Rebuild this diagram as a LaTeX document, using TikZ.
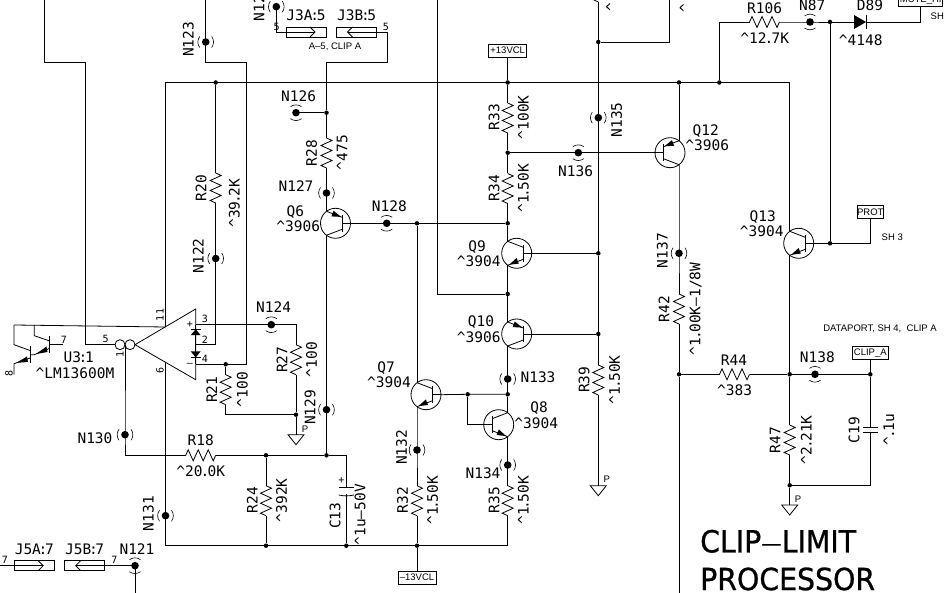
\documentclass[tikz,border=0pt]{standalone}
\usepackage{fontspec}
\newfontfamily\labelfont{DejaVu Sans Mono}
\newfontfamily\notefont{Liberation Sans}
\newfontfamily\titlefont[FakeBold=0.8,FakeStretch=0.93]{DejaVu Sans}
\newcommand{\caret}{\textasciicircum}
\newcommand{\dt}{\kern-1.8pt.\kern-1.8pt}
\newcommand{\cl}{\kern-2.3pt:\kern-2.3pt}
\tikzset{
    wire/.style={line width=0.8pt, line join=miter},
    lbl/.style={font=\labelfont\fontsize{14.5}{15}\selectfont, inner sep=0pt},
    lblv/.style={lbl, rotate=90},
    pin/.style={font=\labelfont\fontsize{10}{10}\selectfont, inner sep=0pt},
    pinv/.style={pin, rotate=90},
    note/.style={font=\notefont\fontsize{9.5}{10}\selectfont, inner sep=0pt},
    title/.style={font=\titlefont\fontsize{30.5}{30}\selectfont, inner sep=0pt, anchor=west},
    tagbox/.style={draw, line width=0.8pt, font=\notefont\fontsize{9.5}{10}\selectfont, inner sep=0pt, minimum height=13pt},
    junction/.style={circle, fill=black, inner sep=0pt, minimum size=4.5pt},
    resv/.pic={
        \draw[wire] (0,0) -- (5.5,2.5) -- (-5.5,7.5) -- (5.5,12.5) -- (-5.5,17.5) -- (5.5,22.5) -- (-5.5,27.5) -- (0,30);
        \coordinate (-a) at (0,0);
        \coordinate (-b) at (0,30);
    },
    testh/.pic={
        \fill (0,0) circle [radius=3.8];
        \draw[line width=0.6pt] (-6,-5.5) to[bend right=35] (-6,5.5);
        \draw[line width=0.6pt] (6,-5.5) to[bend left=35] (6,5.5);
        \coordinate (-c) at (0,0);
    },
    testv/.pic={
        \fill (0,0) circle [radius=3.8];
        \draw[line width=0.6pt] (-5.5,-6) to[bend left=35] (5.5,-6);
        \draw[line width=0.6pt] (-5.5,6) to[bend right=35] (5.5,6);
        \coordinate (-c) at (0,0);
    },
    % base on the right, upper leg carries the arrow
    pnptr/.pic={
        \draw[wire] (0,0) circle [radius=15];
        \draw[wire] (6.6,-8.3) -- (6.6,8.3);
        \draw[wire] (15,0) -- (6.6,0);
        \draw[wire] (-9,-12) -- (6.6,-6);
        \draw[wire] (-9,12) -- (6.6,6);
        \fill (5.6,-6.4) -- (-4.1,-6.9) -- (-1.9,-12.5) -- cycle;
        \coordinate (-t) at (-9,-12);
        \coordinate (-u) at (-9,12);
        \coordinate (-b) at (15,0);
    },
    % base on the right, lower leg carries the arrow
    npntr/.pic={
        \draw[wire] (0,0) circle [radius=15];
        \draw[wire] (6.6,-8.3) -- (6.6,8.3);
        \draw[wire] (15,0) -- (6.6,0);
        \draw[wire] (-9,-12) -- (6.6,-6);
        \draw[wire] (-9,12) -- (6.6,6);
        \fill (-7.5,11.4) -- (2.1,10.3) -- (-0.1,4.7) -- cycle;
        \coordinate (-t) at (-9,-12);
        \coordinate (-u) at (-9,12);
        \coordinate (-b) at (15,0);
    },
    jack/.pic={
        \draw[wire] (-20,-5) rectangle (20,5);
        \draw[wire] (-20,0) -- (9,0);
        \draw[wire] (4,-5) -- (9,0) -- (4,5);
        \coordinate (-l) at (-20,0);
        \coordinate (-r) at (20,0);
    },
    gnd/.pic={
        \draw[wire] (0,10) -- (-8,0) -- (8,0) -- cycle;
        \coordinate (-t) at (0,0);
    }
}
\begin{document}
\begin{tikzpicture}[x=1pt, y=-1pt]
    \useasboundingbox (0,0) rectangle (948,593);

    % junction dots
    \node[junction] (j20) at (215.7,82.5) {};
    \node[junction] (j33) at (507.7,82.5) {};
    \node[junction] (j12) at (679,82.5) {};
    \node[junction] (j106) at (719.3,82.5) {};
    \node[junction] (j126) at (326.5,112.7) {};
    \node[junction] (j135) at (598.3,42) {};
    \node[junction] (j34) at (507.7,152.7) {};
    \node[junction] (j128) at (417,223.3) {};
    \node[junction] (j9) at (507.7,223.3) {};
    \node[junction] (j9b) at (598.3,253.3) {};
    \node[junction] (j10) at (507.7,294) {};
    \node[junction] (j10b) at (598.3,334) {};
    \node[junction] (j8) at (507.7,394.3) {};
    \node[junction] (j7) at (467.7,394.3) {};
    \node[junction] (j21) at (225.7,364.3) {};
    \node[junction] (j27) at (296,414.7) {};
    \node[junction] (j24) at (266,455.3) {};
    \node[junction] (j129) at (326.5,455.3) {};
    \node[junction] (j24b) at (266,545.7) {};
    \node[junction] (j13) at (346.3,545.7) {};
    \node[junction] (j32) at (417,545.7) {};
    \node[junction] (j87) at (830,22) {};
    \node[junction] (j13b) at (830,243.3) {};
    \node[junction] (j42) at (679,374.3) {};
    \node[junction] (j44) at (789.7,374.3) {};
    \node[junction] (j19) at (870.3,374.3) {};
    \node[junction] (j47) at (789.7,485.3) {};

    % test points
    \pic (n125) at (276.3,6.7) {testh};
    \pic (n123) at (205.7,42) {testh};
    \pic (n122) at (215.7,258.5) {testh};
    \pic (n127) at (326.5,193) {testh};
    \pic (n129) at (326.5,409.7) {testh};
    \pic (n130) at (125,434.7) {testh};
    \pic (n131) at (165.5,515.7) {testh};
    \pic (n132) at (417,450) {testh};
    \pic (n133) at (507.7,379) {testh};
    \pic (n134) at (507.7,465) {testh};
    \pic (n135) at (598.3,117.7) {testh};
    \pic (n137) at (679,253.3) {testh};
    \pic (n126) at (296,112.7) {testv};
    \pic (n128) at (386.7,223.3) {testv};
    \pic (n136) at (578.3,152.7) {testv};
    \pic (n87) at (810,22) {testv};
    \pic (n124) at (271.3,324.7) {testv};
    \pic (n138) at (815,374.3) {testv};
    \pic (n121) at (135,565.7) {testv};

    % transistors
    \pic (q6) at (335.5,223.3) {pnptr};
    \pic (q9) at (516.7,253.3) {npntr};
    \pic (q10) at (516.7,334) {pnptr};
    \pic (q7) at (426,394.7) {npntr};
    \pic (q13) at (798.7,243.3) {npntr};
    \pic[xscale=-1] (q12) at (670,152.7) {pnptr};
    \pic[xscale=-1] (q8) at (498.7,424.7) {npntr};

    % resistors
    \pic (r20) at (215.7,173) {resv};
    \pic (r28) at (326.5,138) {resv};
    \pic (r33) at (507.7,103) {resv};
    \pic (r34) at (507.7,173.5) {resv};
    \pic (r42) at (679,294) {resv};
    \pic (r21) at (225.7,374.7) {resv};
    \pic (r27) at (296,344.7) {resv};
    \pic (r24) at (266,485.7) {resv};
    \pic (r32) at (417,485.7) {resv};
    \pic (r35) at (507.7,485.7) {resv};
    \pic (r39) at (598.3,365) {resv};
    \pic (r47) at (789.7,425) {resv};
    \pic[rotate=90] (r18) at (185.7,455.3) {resv};
    \pic[rotate=90] (r44) at (719.5,374.3) {resv};
    \pic[rotate=90] (r106) at (749.5,22) {resv};
    \pic (rtop) at (598.3,-28) {resv};

    % connectors and grounds
    \pic (j3a) at (306,32) {jack};
    \pic[xscale=-1] (j3b) at (356.5,32) {jack};
    \pic (j5a) at (34.2,565.7) {jack};
    \pic[xscale=-1] (j5b) at (84.7,565.7) {jack};
    \pic (g27) at (296,434.7) {gnd};
    \pic (g39) at (598.3,485.7) {gnd};
    \pic (g47) at (789.7,505) {gnd};

    % tagged boxes
    \node[tagbox, minimum width=38pt] (vcc) at (507.7,50.5) {+13VCL};
    \node[tagbox, minimum width=38pt] (vee) at (417,577.5) {\textendash13VCL};
    \node[tagbox, minimum width=26pt] (prot) at (870.3,211.8) {PROT};
    \node[tagbox, minimum width=36pt] (clipa) at (870.3,352.7) {CLIP\_A};
    \node[tagbox, minimum width=44pt] (mute) at (920.7,0.2) {MUTE\_HI};

    % free ends and corners
    \coordinate (leftin) at (44.5,0);
    \coordinate (leftcr) at (44.5,62);
    \coordinate (leftdn) at (85,62);
    \coordinate (pin5) at (85,344.7);
    \coordinate (topb) at (205.7,0);
    \coordinate (topc) at (205.7,62);
    \coordinate (topd) at (246,62);
    \coordinate (j3cr) at (387,62);
    \coordinate (j3in) at (326.5,62);
    \coordinate (railw) at (165.5,82.5);
    \coordinate (raile) at (789.7,82.5);
    \coordinate (pin11) at (165.5,327);
    \coordinate (pin6) at (165.5,362.3);
    \coordinate (railb) at (165.5,545.7);
    \coordinate (r35dn) at (507.7,545.7);
    \coordinate (top437) at (437.3,0);
    \coordinate (cr437) at (437.3,294);
    \coordinate (top669) at (669,0);
    \coordinate (cr669) at (669,42);
    \coordinate (cr106) at (719.3,22);
    \coordinate (crmute) at (920.7,22);
    \coordinate (j7b) at (467.7,424.7);
    \coordinate (lsharp) at (0,565.7);
    \coordinate (bot121) at (135,593);
    \coordinate (bot679) at (679,593);
    \coordinate (cr47) at (870.3,485.3);
    \coordinate (c13top) at (346.3,455.3);

    % op amp
    \coordinate (apex) at (135,344.7);
    \coordinate (oput) at (195.7,309);
    \coordinate (opub) at (195.7,379.7);
    \draw[wire] (apex) -- (oput) -- (opub) -- cycle;
    \draw[wire] (120,344.7) circle [radius=5];
    \draw[wire] (130,344.7) circle [radius=5];
    \coordinate (pin1) at (125,344.7);
    \coordinate (pin5c) at (115,344.7);
    \coordinate (pin1cr) at (125,455.3);
    \coordinate (pin3) at (195.7,324.7);
    \coordinate (pin2) at (195.7,344.7);
    \coordinate (pin4) at (195.7,364.3);
    \coordinate (pin2cr) at (215.7,344.7);
    \coordinate (pin4cr) at (246,364.3);
    \coordinate (r27top) at (296,324.7);
    \coordinate (r21cr) at (225.7,414.7);

    % diodes
    \draw[wire] (pin3) -- (pin4);
    \fill (195.7,329.3) -- (190.7,335.2) -- (200.7,335.2) -- cycle;
    \draw[wire] (190.7,329.3) -- (200.7,329.3);
    \fill (195.7,357.5) -- (190.7,351.3) -- (200.7,351.3) -- cycle;
    \draw[wire] (190.7,357.7) -- (200.7,357.7);
    \fill (866,22) -- (854,15) -- (854,29) -- cycle;
    \draw[wire] (866.3,15) -- (866.3,29);

    % darlington output
    \coordinate (dl1) at (14,325);
    \coordinate (dl2) at (14,344.7);
    \coordinate (dl3) at (14,374.7);
    \coordinate (dr1) at (34.3,325);
    \coordinate (dr2) at (34.3,335.7);
    \draw[wire] (dl3) -- (14,363.7) -- (30,358);
    \draw[wire] (30,345.7) -- (30,363);
    \draw[wire] (dl1) -- (dl2) -- (30,350.5);
    \draw[wire] (dr1) -- (dr2) -- (49.7,341);
    \draw[wire] (49.7,335.7) -- (49.7,353);
    \draw[wire] (49.7,344.7) -- (63,344.7);
    \draw[wire] (49.7,348.3) -- (34.3,354.7) -- (30,354.7);
    \fill (16.5,362.8) -- (27,356.5) -- (28,362) -- cycle;
    \fill (36,354) -- (46.5,346.5) -- (47.5,352) -- cycle;
    \draw[wire] (dl1) -- (pin11);

    % caps
    \draw[wire] (338.8,487.3) -- (353.8,487.3);
    \draw[wire] (338.8,495) to[bend right=12] (353.8,495);
    \draw[wire] (862.8,427.3) -- (877.8,427.3);
    \draw[wire] (862.8,432.7) -- (877.8,432.7);

    % wires
    \draw[wire] (leftin) -- (leftcr) -- (leftdn) -- (pin5) -- (pin5c);
    \draw[wire] (topb) -- (n123-c) -- (topc) -- (topd) -- (pin4cr) -- (pin4);
    \draw[wire] (railw) -- (raile) -- (q13-t);
    \draw[wire] (railw) -- (pin11);
    \draw[wire] (pin6) -- (n131-c) -- (railb) -- (r35dn) -- (r35-b);
    \draw[wire] (j20) -- (r20-a);
    \draw[wire] (r20-b) -- (n122-c) -- (pin2cr) -- (pin2);
    \draw[wire] (n125-c) -- (276.3,32) -- (j3a-l);
    \draw[wire] (j3b-l) -- (387,32) -- (j3cr) -- (j3in) -- (j126) -- (r28-a);
    \draw[wire] (n126-c) -- (j126);
    \draw[wire] (r28-b) -- (n127-c) -- (q6-t);
    \draw[wire] (q6-b) -- (n128-c) -- (j128) -- (j9);
    \draw[wire] (j128) -- (q7-t);
    \draw[wire] (q6-u) -- (n129-c) -- (j129);
    \draw[wire] (vcc.south) -- (j33) -- (r33-a);
    \draw[wire] (r33-b) -- (j34) -- (r34-a);
    \draw[wire] (r34-b) -- (j9) -- (q9-t);
    \draw[wire] (j34) -- (n136-c) -- (q12-b);
    \draw[wire] (q9-u) -- (j10) -- (q10-t);
    \draw[wire] (q9-b) -- (j9b);
    \draw[wire] (q10-b) -- (j10b);
    \draw[wire] (q10-u) -- (n133-c) -- (j8) -- (q8-t);
    \draw[wire] (q8-u) -- (n134-c) -- (r35-a);
    \draw[wire] (j8) -- (j7) -- (q7-b);
    \draw[wire] (j7) -- (j7b) -- (q8-b);
    \draw[wire] (top437) -- (cr437) -- (j10);
    \draw[wire] (rtop-b) -- (j135) -- (n135-c) -- (j9b) -- (j10b) -- (r39-a);
    \draw[wire] (r39-b) -- (g39-t);
    \draw[wire] (j135) -- (cr669) -- (top669);
    \draw[wire] (j12) -- (q12-t);
    \draw[wire] (q12-u) -- (n137-c) -- (r42-a);
    \draw[wire] (r42-b) -- (j42) -- (bot679);
    \draw[wire] (j42) -- (r44-a);
    \draw[wire] (r44-b) -- (j44) -- (n138-c) -- (j19);
    \draw[wire] (clipa.south) -- (j19) -- (870.3,427.3);
    \draw[wire] (870.3,432.7) -- (cr47) -- (j47);
    \draw[wire] (q13-u) -- (j44) -- (r47-a);
    \draw[wire] (r47-b) -- (j47) -- (g47-t);
    \draw[wire] (j106) -- (cr106) -- (r106-a);
    \draw[wire] (r106-b) -- (n87-c) -- (j87) -- (854,22);
    \draw[wire] (866,22) -- (crmute) -- (mute.south);
    \draw[wire] (j87) -- (j13b);
    \draw[wire] (q13-b) -- (j13b) -- (870.3,243.3) -- (prot.south);
    \draw[wire] (pin1) -- (n130-c) -- (pin1cr) -- (r18-a);
    \draw[wire] (r18-b) -- (j24) -- (j129) -- (c13top) -- (346.3,487.3);
    \draw[wire] (346.3,494) -- (j13);
    \draw[wire] (j24) -- (r24-a);
    \draw[wire] (r24-b) -- (j24b);
    \draw[wire] (q7-u) -- (n132-c) -- (r32-a);
    \draw[wire] (r32-b) -- (j32) -- (vee.north);
    \draw[wire] (pin3) -- (n124-c) -- (r27top) -- (r27-a);
    \draw[wire] (r27-b) -- (j27) -- (g27-t);
    \draw[wire] (j21) -- (r21-a);
    \draw[wire] (r21-b) -- (r21cr) -- (j27);
    \draw[wire] (lsharp) -- (j5a-l);
    \draw[wire] (j5b-l) -- (n121-c) -- (bot121);

    % labels along the picture
    \node[lblv] (ln125) at (259,4) {N125};
    \node[lblv] (ln123) at (188.3,39.3) {N123};
    \node[lblv] (ln122) at (198.3,256) {N122};
    \node[lblv] (lr20) at (201,188.3) {R20};
    \node[lblv] (lv20) at (234.3,203.3) {\caret39\dt2K};
    \node[lbl] (ln126) at (298.7,96) {N126};
    \node[lblv] (lr28) at (311.7,153.3) {R28};
    \node[lblv] (lv28) at (342.3,152.7) {\caret475};
    \node[lbl] (ln127) at (296,186) {N127};
    \node[lbl] (lq6) at (295.3,211.7) {Q6};
    \node[lbl] (lv6) at (298.3,226) {\caret3906};
    \node[lbl] (ln128) at (389.3,206.3) {N128};
    \node[lblv] (lr33) at (494,117.3) {R33};
    \node[lblv] (lv33) at (523.3,117.3) {\caret100K};
    \node[lblv] (lr34) at (494,188.3) {R34};
    \node[lblv] (lv34) at (523.3,188.3) {\caret1\dt50K};
    \node[lblv] (ln135) at (616.7,120) {N135};
    \node[lbl] (ln136) at (575.7,171) {N136};
    \node[lbl] (lq12) at (705.7,130.7) {Q12};
    \node[lbl] (lv12) at (707.3,145.7) {\caret3906};
    \node[lbl] (lr106) at (764.7,8) {R106};
    \node[lbl] (lv106) at (764.7,37.7) {\caret12\dt7K};
    \node[lbl] (ln87) at (812.3,5) {N87};
    \node[lbl] (ld89) at (870,5) {D89};
    \node[lbl] (lv89) at (860.7,40) {\caret4148};
    \node[lbl] (lq13) at (762.7,216.7) {Q13};
    \node[lbl] (lv13) at (761.7,231.7) {\caret3904};
    \node[lblv] (ln137) at (662.3,250.7) {N137};
    \node[lbl] (lq9) at (477,246.7) {Q9};
    \node[lbl] (lv9) at (478.7,261.7) {\caret3904};
    \node[lbl] (lq10) at (481,322.3) {Q10};
    \node[lbl] (lv10) at (478.7,337) {\caret3906};
    \node[lblv] (lr42) at (664,309) {R42};
    \node[lblv] (lv42) at (695.7,309) {\caret1\dt00K\textendash1/8W};
    \node[lbl] (lr44) at (734,360.7) {R44};
    \node[lbl] (lv44) at (734.7,390.3) {\caret383};
    \node[lbl] (ln138) at (817.3,357) {N138};
    \node[lblv] (lr47) at (775,440.3) {R47};
    \node[lblv] (lv47) at (806.3,439.7) {\caret2\dt21K};
    \node[lblv] (lc19) at (854,430.3) {C19};
    \node[lblv] (lv19) at (889,429.7) {\caret\dt1u};
    \node[lblv] (lr39) at (584,379.7) {R39};
    \node[lblv] (lv39) at (614.7,379.7) {\caret1\dt50K};
    \node[lbl] (ln133) at (538,377.3) {N133};
    \node[lbl] (lq8) at (539,408) {Q8};
    \node[lbl] (lv8) at (536.3,423) {\caret3904};
    \node[lbl] (ln134) at (483,473) {N134};
    \node[lblv] (lr35) at (494,500.3) {R35};
    \node[lblv] (lv35) at (523.3,500.3) {\caret1\dt50K};
    \node[lbl] (ln124) at (273.7,307) {N124};
    \node[lblv] (lr27) at (282,359.7) {R27};
    \node[lblv] (lv27) at (311.7,359.7) {\caret100};
    \node[lblv] (lr21) at (211.7,389.7) {R21};
    \node[lblv] (lv21) at (242.3,389.7) {\caret100};
    \node[lblv] (ln129) at (310,407.3) {N129};
    \node[lbl] (ln130) at (95,438) {N130};
    \node[lbl] (lr18) at (200.7,440.7) {R18};
    \node[lbl] (lv18) at (200.7,471.3) {\caret20\dt0K};
    \node[lblv] (lr24) at (252.3,500.3) {R24};
    \node[lblv] (lv24) at (281.7,500.3) {\caret392K};
    \node[lblv] (lc13) at (335,515.7) {C13};
    \node[lblv] (lv13b) at (360,514.7) {\caret1u\textendash50V};
    \node[pin] (lplus) at (341.3,480.7) {+};
    \node[lblv] (ln131) at (148.3,513.7) {N131};
    \node[lblv] (ln132) at (401.7,447.3) {N132};
    \node[lbl] (lq7) at (386,368) {Q7};
    \node[lbl] (lv7) at (389,382.3) {\caret3904};
    \node[lblv] (lr32) at (402.7,500.3) {R32};
    \node[lblv] (lv32) at (432.7,500.3) {\caret1\dt50K};
    \node[lbl] (lu3) at (78.7,357) {U3\cl1};
    \node[lbl] (lv3) at (75,373) {\caret LM13600M};
    \node[lbl] (lj3a) at (306,15.3) {J3A\cl5};
    \node[lbl] (lj3b) at (356.7,15.3) {J3B\cl5};
    \node[lbl] (lj5a) at (34.3,549.7) {J5A\cl7};
    \node[lbl] (lj5b) at (84.7,549.7) {J5B\cl7};
    \node[lbl] (ln121) at (137,549) {N121};
    \node[lblv] (ltop1) at (611.7,6.7) {\caret};
    \node[lblv] (ltop2) at (685,8) {\caret};

    % pin numbers
    \node[pin] (p5) at (105.7,339) {5};
    \node[pinv] (p1) at (120,354) {1};
    \node[pinv] (p11) at (160,315) {11};
    \node[pinv] (p6) at (160,370.7) {6};
    \node[pin] (p3) at (205,319) {3};
    \node[pin] (p2) at (205,339.7) {2};
    \node[pin] (p4) at (205,359) {4};
    \node[pin] (pplus) at (190,324.7) {+};
    \node[pin] (pminus) at (190,364.7) {\textendash};
    \node[pin] (p7) at (64,339.7) {7};
    \node[pinv] (p8) at (9,373.7) {8};
    \node[pin] (pj3a) at (276.7,27.3) {5};
    \node[pin] (pj3b) at (386,27.3) {5};
    \node[pin] (pj5a) at (5,560) {7};
    \node[pin] (pj5b) at (114.3,560) {7};

    % small notes
    \node[note] (gp27) at (305,429) {P};
    \node[note] (gp39) at (606.7,479) {P};
    \node[note] (gp47) at (798,499.7) {P};
    \node[note] (nclip) at (335,47) {A\textendash5, CLIP A};
    \node[note] (nsh3) at (892.3,237.7) {SH 3};
    \node[note, anchor=west] (nsh) at (930.5,16.7) {SH};
    \node[note] (ndata) at (880,329) {DATAPORT, SH 4,\ \ CLIP A};

    \node[title] (tclip) at (700,541.3) {CLIP\raisebox{1.5pt}{\fontsize{22}{22}\selectfont\textemdash}LIMIT};
    \node[title] (tproc) at (700,579) {PROCESSOR};
\end{tikzpicture}
\end{document}
